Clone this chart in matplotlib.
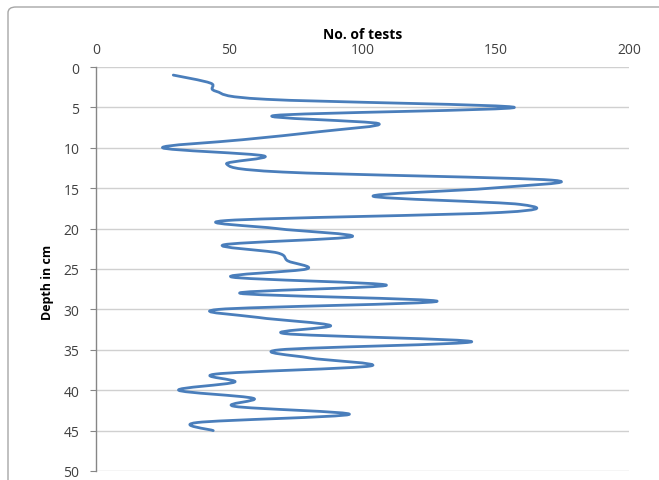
import numpy as np
import matplotlib
matplotlib.use("Agg")
import matplotlib.pyplot as plt
from matplotlib.path import Path
from matplotlib.patches import PathPatch, FancyBboxPatch

# Data: depth (cm) and number of tests
depth = [1, 2, 3, 4, 5, 6, 7, 8, 9, 10,
         11, 12, 13, 14, 15, 16, 17, 18, 19, 20,
         21, 22, 23, 24, 25, 26, 27, 28, 29, 30,
         31, 32, 33, 34, 35, 36, 37, 38, 39, 40,
         41, 42, 43, 44, 45]
tests = [29, 43, 45, 64, 157, 67, 106, 84, 55, 25,
         63, 49, 70, 171, 148, 104, 159, 152, 49, 68,
         96, 48, 68, 72, 79, 51, 109, 54, 128, 46,
         61, 88, 71, 141, 69, 80, 103, 45, 52, 31,
         59, 52, 95, 38, 44]
x_ticks = [0, 50, 100, 150, 200]
y_ticks = [0, 5, 10, 15, 20, 25, 30, 35, 40, 45, 50]

fig = plt.figure(figsize=(6.59, 4.81), dpi=100)
W, H = 659, 481

# chart-area border (cropped, only top/left visible)
border = FancyBboxPatch((8 / W, -0.2), 1.2, 1 - 8 / H + 0.2,
                        boxstyle="round,pad=0,rounding_size=0.012",
                        transform=fig.transFigure, fill=False,
                        edgecolor="#a6a6a6", linewidth=1.0)
fig.patches.append(border)

ax = fig.add_axes([96 / W, 1 - 472 / H, (629 - 96) / W, (472 - 68) / H])
ax.set_xlim(x_ticks[0], x_ticks[-1])
ax.set_ylim(y_ticks[-1], y_ticks[0])

# Smoothed line (Excel-style Catmull-Rom via cubic Bezier)
pts = np.column_stack([tests, depth]).astype(float)
n = len(pts)
verts = [pts[0]]
codes = [Path.MOVETO]
for i in range(n - 1):
    p0 = pts[i - 1] if i > 0 else pts[i]
    p1 = pts[i]
    p2 = pts[i + 1]
    p3 = pts[i + 2] if i + 2 < n else pts[i + 1]
    c1 = p1 + (p2 - p0) / 6.0
    c2 = p2 - (p3 - p1) / 6.0
    verts += [c1, c2, p2]
    codes += [Path.CURVE4] * 3
ax.add_patch(PathPatch(Path(verts, codes), fill=False, edgecolor="#4a7ebb",
                       linewidth=2.0, capstyle="round", joinstyle="round", zorder=3))

ax.set_xticks(x_ticks)
ax.set_yticks(y_ticks)
ax.xaxis.tick_top()
ax.xaxis.set_label_position("top")
ax.tick_params(axis="x", length=0, pad=7.5, labelsize=10, labelcolor="#404040")
ax.tick_params(axis="y", length=4, width=0.8, color="#868686", pad=8,
               labelsize=10, labelcolor="#404040")
for lab in ax.get_xticklabels() + ax.get_yticklabels():
    lab.set_fontfamily("Open Sans")

ax.grid(axis="y", color="#d0d0d0", linewidth=1.0)
ax.set_axisbelow(True)
for s in ["top", "right", "bottom"]:
    ax.spines[s].set_visible(False)
ax.spines["left"].set_color("#868686")
ax.spines["left"].set_linewidth(1.0)

ax.set_xlabel("No. of tests", fontsize=10, fontweight="bold",
              family="Open Sans", labelpad=2.5, color="#000000")
fig.text(47 / W, 1 - 282 / H, "Depth in cm", rotation=90, ha="center", va="center",
         fontsize=9, fontweight="bold", family="Open Sans", color="#000000")

fig.savefig("out.png", dpi=100)
